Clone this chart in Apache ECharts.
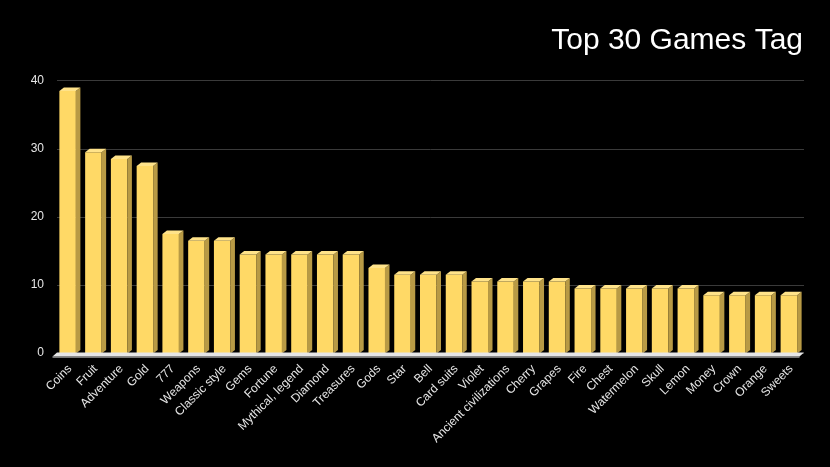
<!DOCTYPE html>
<html>
<head>
<meta charset="utf-8">
<script src="https://cdn.jsdelivr.net/npm/echarts@6/dist/echarts.min.js"></script>
<style>
  html, body { margin: 0; padding: 0; background: #000; }
  #main { width: 830px; height: 467px; }
</style>
</head>
<body>
<div id="main"></div>
<script>
var tags = ['Coins', 'Fruit', 'Adventure', 'Gold', '777', 'Weapons', 'Classic style', 'Gems',
  'Fortune', 'Mythical, legend', 'Diamond', 'Treasures', 'Gods', 'Star', 'Bell', 'Card suits',
  'Violet', 'Ancient civilizations', 'Cherry', 'Grapes', 'Fire', 'Chest', 'Watermelon', 'Skull',
  'Lemon', 'Money', 'Crown', 'Orange', 'Sweets'];
var counts = [39, 30, 29, 28, 18, 17, 17, 15, 15, 15, 15, 15, 13, 12, 12, 12,
  11, 11, 11, 11, 10, 10, 10, 10, 10, 9, 9, 9, 9];
var yTicks = [0, 10, 20, 30, 40];

var myChart = echarts.init(document.getElementById('main'));

// fake 3d offsets
var DX = 4.5, DY = 3.5;

function renderBar(params, api) {
    var top = api.coord([api.value(0), api.value(1)]);
    var base = api.coord([api.value(0), 0]);
    var x0 = top[0] - 10.5, x1 = top[0] + 6;
    var yt = top[1] + DY, yb = base[1] + 0.5;
    return {
        type: 'group',
        children: [
            { type: 'rect', shape: { x: x0, y: yt, width: x1 - x0, height: yb - yt }, style: { fill: '#ffd966' } },
            { type: 'polygon', shape: { points: [[x1, yt], [x1 + DX, yt - DY], [x1 + DX, yb - DY], [x1, yb]] }, style: { fill: '#b89a45' } },
            { type: 'polygon', shape: { points: [[x0, yt], [x1, yt], [x1 + DX, yt - DY], [x0 + DX, yt - DY]] }, style: { fill: '#ffe38a' } }
        ]
    };
}

function renderFloor(params, api) {
    var cs = params.coordSys;
    var yb = cs.y + cs.height;
    var l = cs.x, r = cs.x + cs.width;
    return {
        type: 'group',
        children: [
            { type: 'polygon', shape: { points: [[l, yb - 0.5], [r, yb - 0.5], [r - DX, yb + DY], [l - DX, yb + DY]] }, style: { fill: '#e6e6e6' } },
            { type: 'rect', shape: { x: l - DX, y: yb + DY, width: cs.width, height: 1.2 }, style: { fill: '#a0a0a0' } }
        ]
    };
}

var barData = counts.map(function (v, i) { return [i, v]; });

myChart.setOption({
    backgroundColor: '#000',
    animation: false,
    title: {
        text: 'Top 30 Games Tag',
        right: 22,
        top: 21,
        textStyle: { color: '#fff', fontSize: 30, fontWeight: 'normal', fontFamily: 'Liberation Sans' }
    },
    grid: { left: 57, right: 26, top: 80.7, bottom: 114 },
    xAxis: {
        type: 'category',
        data: tags,
        axisLine: { show: false },
        axisTick: { show: false },
        axisLabel: {
            interval: 0,
            rotate: 45,
            margin: 14,
            color: '#e6e6e6',
            fontSize: 12,
            fontFamily: 'Liberation Sans'
        }
    },
    yAxis: {
        type: 'value',
        min: yTicks[0],
        max: yTicks[yTicks.length - 1],
        interval: 10,
        axisLabel: { color: '#e6e6e6', fontSize: 12, margin: 13, fontFamily: 'Liberation Sans' },
        axisLine: { show: false },
        axisTick: { show: false },
        splitLine: { lineStyle: { color: '#3a3a3a', width: 1 } }
    },
    series: [
        {
            type: 'custom',
            name: 'Count',
            renderItem: renderBar,
            encode: { x: 0, y: 1 },
            data: barData,
            z: 2
        },
        {
            type: 'custom',
            renderItem: renderFloor,
            data: [[0, 0]],
            z: 3,
            silent: true
        }
    ]
});
</script>
</body>
</html>
